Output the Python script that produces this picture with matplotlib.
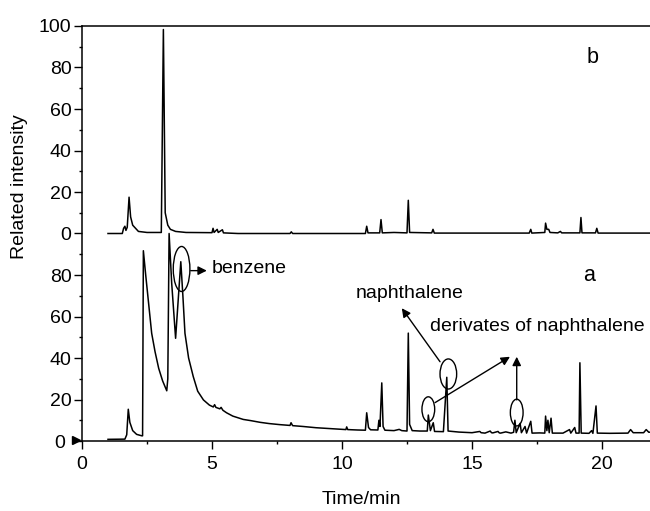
import matplotlib
matplotlib.use("Agg")
import matplotlib.pyplot as plt
from matplotlib.patches import Ellipse
from matplotlib.ticker import MultipleLocator, FixedLocator

plt.rcParams['font.family'] = ['Liberation Sans', 'DejaVu Sans']

# trace a (lower): retention time / min, related intensity
time_a = [1.0, 1.65, 1.72, 1.78, 1.84, 1.95, 2.1, 2.3, 2.33, 2.36, 2.45, 2.55, 2.68,
          2.81, 2.95, 3.1, 3.26, 3.3, 3.35, 3.45, 3.6, 3.7, 3.8, 3.88, 3.96, 4.1,
          4.28, 4.45, 4.67, 4.9, 5.05, 5.1, 5.15, 5.3, 5.35, 5.42, 5.56, 5.8, 6.2,
          6.5, 6.85, 7.2, 7.6, 8.0, 8.04, 8.1, 8.5, 9.0, 9.5, 10.0, 10.15, 10.18,
          10.22, 10.6, 10.9, 10.95, 11.02, 11.1, 11.38, 11.42, 11.46, 11.53, 11.58,
          11.65, 12.0, 12.2, 12.3, 12.5, 12.55, 12.6, 12.7, 13.0, 13.28, 13.32,
          13.4, 13.51, 13.56, 13.9, 14.03, 14.08, 14.5, 15.0, 15.3, 15.35, 15.5,
          15.7, 15.75, 15.8, 16.0, 16.05, 16.1, 16.3, 16.5, 16.6, 16.65, 16.7,
          16.85, 16.9, 17.04, 17.1, 17.26, 17.31, 17.6, 17.8, 17.83, 17.88, 17.92,
          17.97, 18.04, 18.09, 18.5, 18.75, 18.8, 18.95, 19.0, 19.12, 19.15, 19.2,
          19.5, 19.6, 19.65, 19.77, 19.82, 20.3, 21.0, 21.1, 21.2, 21.6, 21.7,
          21.8, 22.0]
int_a = [0.8, 0.9, 3.0, 15.3, 9.0, 5.0, 3.2, 2.5, 2.5, 91.7, 80.0, 68.0, 51.9,
         43.0, 35.0, 29.0, 24.2, 30.0, 100.0, 76.0, 49.5, 68.0, 86.4, 70.0, 51.9,
         40.0, 31.0, 24.0, 19.8, 17.3, 16.4, 17.5, 16.2, 15.5, 16.2, 14.8, 13.6,
         12.0, 10.4, 9.8, 9.0, 8.4, 7.9, 7.5, 8.8, 7.4, 7.0, 6.4, 6.0, 5.6, 5.5,
         6.8, 5.5, 5.3, 5.2, 13.6, 6.5, 5.4, 5.3, 10.0, 7.0, 28.0, 7.0, 5.2, 5.0,
         5.6, 5.0, 4.8, 52.0, 8.0, 5.0, 4.8, 4.8, 12.5, 5.0, 8.8, 4.6, 4.5, 30.7,
         4.8, 4.3, 4.0, 4.6, 4.0, 3.8, 4.8, 4.0, 3.9, 4.6, 3.9, 3.8, 4.4, 3.8, 4.2,
         10.0, 4.0, 8.5, 4.0, 7.0, 3.8, 9.5, 3.8, 3.9, 3.8, 12.0, 5.0, 10.0, 4.0,
         11.0, 3.8, 3.8, 5.5, 3.8, 6.5, 3.8, 3.8, 37.7, 3.8, 3.7, 5.0, 3.7, 16.9,
         3.8, 3.7, 3.8, 5.5, 4.0, 4.0, 5.5, 4.2, 4.5]

# trace b (upper), drawn 100 units above trace a
time_b = [1.0, 1.55, 1.6, 1.65, 1.69, 1.74, 1.81, 1.87, 1.95, 2.17, 2.5, 3.05,
          3.13, 3.2, 3.3, 3.4, 3.6, 4.0, 5.0, 5.04, 5.08, 5.2, 5.24, 5.4, 5.44,
          6.0, 8.0, 8.05, 8.1, 10.9, 10.95, 11.0, 11.45, 11.5, 11.55, 12.0, 12.5,
          12.55, 12.6, 13.45, 13.5, 13.55, 17.2, 17.26, 17.3, 17.8, 17.83, 17.88,
          17.95, 18.0, 18.3, 18.4, 18.45, 19.15, 19.19, 19.23, 19.75, 19.8, 19.85,
          22.0]
int_b = [0.0, 0.0, 2.5, 3.5, 1.5, 3.0, 17.5, 8.0, 4.0, 1.0, 0.5, 0.5, 98.3, 10.0,
         4.0, 2.0, 1.0, 0.5, 0.4, 2.5, 0.5, 2.0, 0.5, 1.8, 0.3, 0.0, 0.0, 0.8, 0.0,
         0.0, 3.5, 0.3, 0.3, 6.7, 0.3, 0.5, 0.3, 16.0, 0.5, 0.3, 2.0, 0.2, 0.2,
         2.0, 0.2, 0.5, 5.0, 2.0, 2.0, 0.5, 0.3, 1.0, 0.3, 0.3, 7.7, 0.3, 0.3, 2.5,
         0.2, 0.2]
offset_b = 100

y_ticks = [0, 20, 40, 60, 80, 100, 120, 140, 160, 180, 200]
y_labels = ['0', '20', '40', '60', '80', '0', '20', '40', '60', '80', '100']

fig = plt.figure(figsize=(6.5, 5.11), dpi=100)
ax = fig.add_axes([82/650, 70/511, 572/650, 415/511])

ax.plot(time_a, int_a, color='black', lw=1.1)
ax.plot(time_b, [v + offset_b for v in int_b], color='black', lw=1.1)

ax.set_xlim(0, 22)
ax.set_ylim(0, 200)
ax.xaxis.set_major_locator(MultipleLocator(5))
ax.xaxis.set_minor_locator(MultipleLocator(2.5))
ax.yaxis.set_major_locator(FixedLocator(y_ticks))
ax.yaxis.set_minor_locator(MultipleLocator(10))
ax.set_yticklabels(y_labels)
ax.tick_params(which='major', direction='out', length=6, width=1, labelsize=14)
ax.tick_params(axis='y', which='major', pad=1.5)
ax.tick_params(axis='x', which='major', pad=5)
ax.tick_params(which='minor', direction='out', length=2.5, width=1)
# lower "0" sits left of the baseline marker
ax.yaxis.get_major_ticks()[0].set_pad(6.5)
for s in ax.spines.values():
    s.set_linewidth(1.1)
ax.spines['right'].set_visible(False)

ax.set_xlabel('Time/min', fontsize=14)
ax.xaxis.set_label_coords(0.488, -0.12)
ax.xaxis.label.set_va('top')
ax.set_ylabel('Related intensity', fontsize=14)
ax.yaxis.set_label_coords(-0.094, 0.612)

# baseline marker for trace a
ax.plot([-0.25], [0.4], marker='>', color='black', markersize=5.5, clip_on=False)

# trace labels
ax.text(19.5, 80, 'a', fontsize=15.5, ha='center', va='center')
ax.text(19.64, 185, 'b', fontsize=15.5, ha='center', va='center')

ap = dict(arrowstyle='-|>', color='black', lw=1.0, mutation_scale=13, shrinkA=0, shrinkB=0)
ax.add_patch(Ellipse((3.83, 82.9), 0.64, 21.7, fill=False, lw=1.0))
ax.annotate('', xy=(4.80, 82.1), xytext=(4.18, 82.1), arrowprops=ap)
ax.text(4.99, 83.0, 'benzene', fontsize=14, ha='left', va='center')

ax.add_patch(Ellipse((14.09, 32.3), 0.64, 14.5, fill=False, lw=1.0))
ax.annotate('', xy=(12.30, 64.0), xytext=(13.77, 38.2), arrowprops=ap)
ax.text(10.54, 71.2, 'naphthalene', fontsize=14, ha='left', va='center')

ax.add_patch(Ellipse((13.32, 15.3), 0.49, 12.0, fill=False, lw=1.0))
ax.add_patch(Ellipse((16.72, 13.7), 0.49, 12.9, fill=False, lw=1.0))
ax.annotate('', xy=(16.46, 40.6), xytext=(13.58, 18.5), arrowprops=ap)
ax.annotate('', xy=(16.72, 40.6), xytext=(16.72, 19.8), arrowprops=ap)
ax.text(13.38, 55.4, 'derivates of naphthalene', fontsize=14, ha='left', va='center')

fig.savefig('out.png', dpi=100)
